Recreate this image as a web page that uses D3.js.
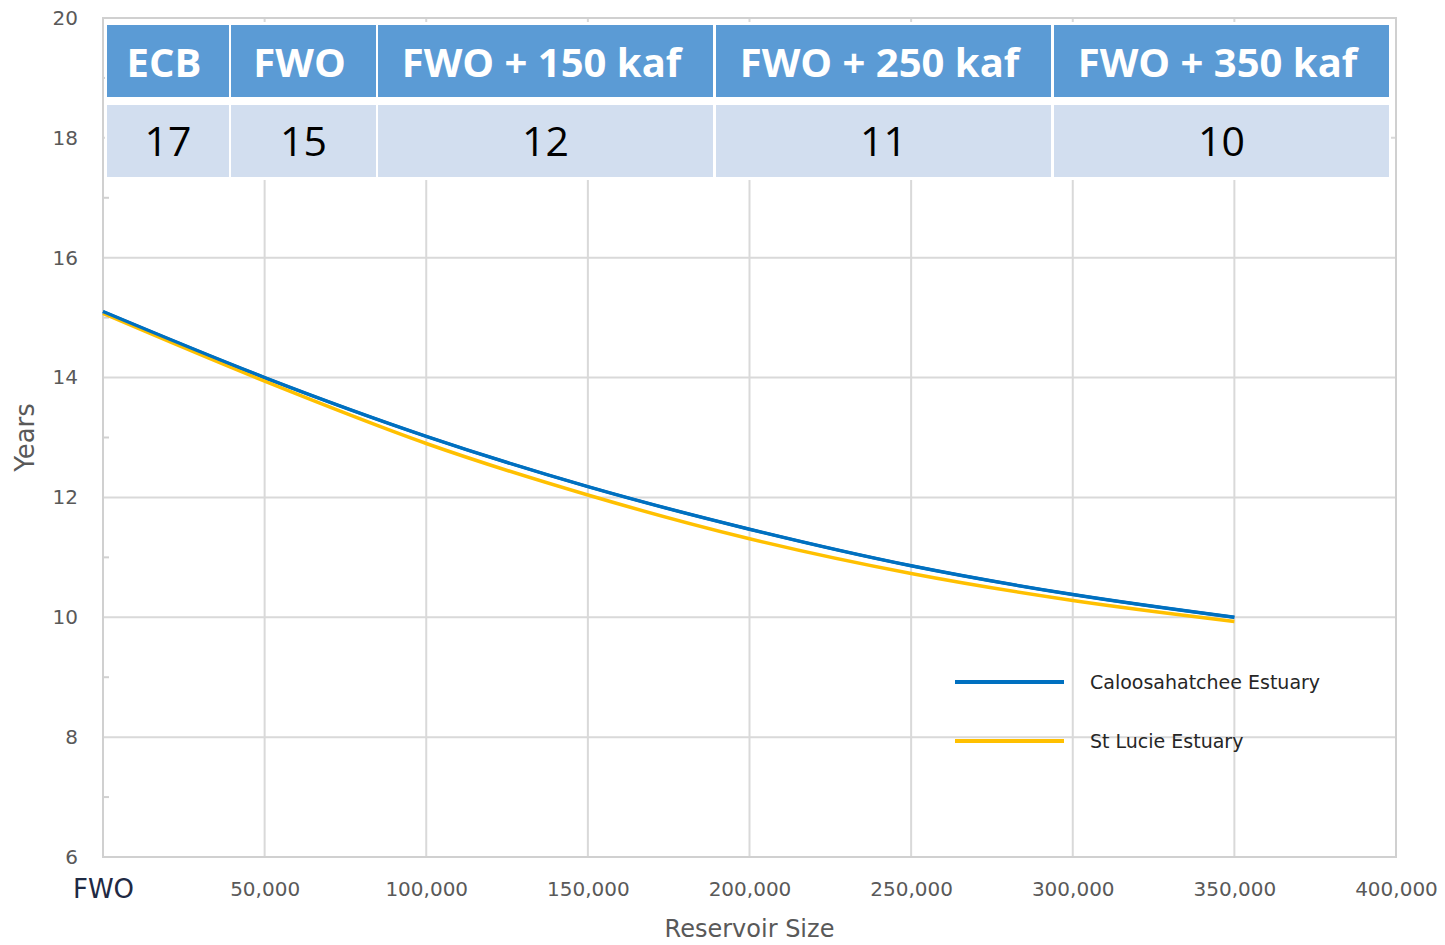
<!DOCTYPE html>
<html>
<head>
<meta charset="utf-8">
<script src="https://cdn.jsdelivr.net/npm/d3@7"></script>
<style>
  html, body { margin: 0; padding: 0; background: #fff; }
  svg { display: block; }
</style>
</head>
<body>
<svg id="chart" width="1445" height="945"></svg>
<script>
// ---- Data ----
const reservoirSizes = [0, 50000, 100000, 150000, 200000, 250000, 300000, 350000];
const caloosahatchee = [15.1, 14.0, 13.02, 12.18, 11.47, 10.86, 10.38, 10.0];
const stLucie        = [15.07, 13.94, 12.9, 12.04, 11.31, 10.73, 10.28, 9.93];
const seriesNames = ["Caloosahatchee Estuary", "St Lucie Estuary"];
const xTickValues = [0, 50000, 100000, 150000, 200000, 250000, 300000, 350000, 400000];
const xTickLabels = ["FWO", "50,000", "100,000", "150,000", "200,000", "250,000", "300,000", "350,000", "400,000"];
const yTickValues = [6, 8, 10, 12, 14, 16, 18, 20];
const tableHeaders = ["ECB", "FWO", "FWO + 150 kaf", "FWO + 250 kaf", "FWO + 350 kaf"];
const tableValues  = ["17", "15", "12", "11", "10"];

// ---- Layout ----
const plot = { left: 103, right: 1396, top: 18, bottom: 857 };
const colors = ["#0070C0", "#FFC000"];
const gridColor = "#d9d9d9";
const labelColor = "#595959";

const svg = d3.select("#chart");

const x = d3.scaleLinear().domain([0, 400000]).range([plot.left, plot.right]);
const y = d3.scaleLinear().domain([6, 20]).range([plot.bottom, plot.top]);

// gridlines
const g = svg.append("g");
g.selectAll("line.h").data(yTickValues).enter().append("line")
  .attr("x1", plot.left).attr("x2", plot.right)
  .attr("y1", d => y(d)).attr("y2", d => y(d))
  .attr("stroke", gridColor).attr("stroke-width", 2);
g.selectAll("line.v").data(xTickValues).enter().append("line")
  .attr("y1", plot.top).attr("y2", plot.bottom)
  .attr("x1", d => x(d)).attr("x2", d => x(d))
  .attr("stroke", gridColor).attr("stroke-width", 2);

// frame
svg.append("rect")
  .attr("x", plot.left).attr("y", plot.top)
  .attr("width", plot.right - plot.left).attr("height", plot.bottom - plot.top)
  .attr("fill", "none").attr("stroke", "#d0d0d0").attr("stroke-width", 2);

// minor ticks on left axis
const minor = d3.range(7, 20, 2);
svg.selectAll("line.minor").data(minor).enter().append("line")
  .attr("x1", plot.left).attr("x2", plot.left + 6)
  .attr("y1", d => y(d)).attr("y2", d => y(d))
  .attr("stroke", "#d0d0d0").attr("stroke-width", 2);

// y axis
const yAxis = d3.axisLeft(y).tickValues(yTickValues).tickSize(0).tickPadding(25);
const yg = svg.append("g").attr("transform", `translate(${plot.left},0)`).call(yAxis);
yg.select(".domain").remove();
yg.selectAll("text")
  .attr("font-family", "DejaVu Sans").attr("font-size", 20)
  .attr("fill", labelColor);

// x axis
const xAxis = d3.axisBottom(x).tickValues(xTickValues).tickSize(0).tickPadding(25)
  .tickFormat((d, i) => xTickLabels[i]);
const xg = svg.append("g").attr("transform", `translate(0,${plot.bottom})`).call(xAxis);
xg.select(".domain").remove();
xg.selectAll("text")
  .attr("font-family", "DejaVu Sans")
  .attr("font-size", (d, i) => i === 0 ? 26 : 20)
  .attr("dy", (d, i) => i === 0 ? "0.6em" : "0.71em")
  .attr("fill", (d, i) => i === 0 ? "#1f2a44" : labelColor);

// axis titles
svg.append("text")
  .attr("x", (plot.left + plot.right) / 2).attr("y", 937)
  .attr("text-anchor", "middle")
  .attr("font-family", "DejaVu Sans").attr("font-size", 24)
  .attr("fill", labelColor).text("Reservoir Size");
svg.append("text")
  .attr("transform", `translate(34,${(plot.top + plot.bottom) / 2}) rotate(-90)`)
  .attr("text-anchor", "middle")
  .attr("font-family", "DejaVu Sans").attr("font-size", 26)
  .attr("fill", labelColor).text("Years");

// lines
const line = d3.line()
  .x((d, i) => x(reservoirSizes[i]))
  .y(d => y(d))
  .curve(d3.curveMonotoneX);
[caloosahatchee, stLucie].forEach((s, k) => {
  svg.append("path").datum(s)
    .attr("d", line)
    .attr("fill", "none")
    .attr("stroke", colors[k])
    .attr("stroke-width", 3.5);
});
svg.append("path").datum(caloosahatchee)
  .attr("d", line).attr("fill", "none")
  .attr("stroke", colors[0]).attr("stroke-width", 3);

// legend
const legendY = [682, 741];
seriesNames.forEach((name, k) => {
  svg.append("line")
    .attr("x1", 955).attr("x2", 1064)
    .attr("y1", legendY[k]).attr("y2", legendY[k])
    .attr("stroke", colors[k]).attr("stroke-width", 4);
  svg.append("text")
    .attr("x", 1090).attr("y", legendY[k] + 7)
    .attr("font-family", "DejaVu Sans").attr("font-size", 19)
    .attr("fill", "#262626").text(name);
});

// table overlay
const cols = [[107, 229], [231, 376], [378, 713], [716, 1051], [1054, 1389]];
const tbl = svg.append("g");
tbl.append("rect").attr("x", 105).attr("y", 22).attr("width", 1286).attr("height", 158).attr("fill", "#fff");
tableHeaders.forEach((h, i) => {
  const [a, b] = cols[i];
  tbl.append("rect").attr("x", a).attr("y", 25).attr("width", b - a).attr("height", 72).attr("fill", "#5B9BD5");
  tbl.append("rect").attr("x", a).attr("y", 105).attr("width", b - a).attr("height", 72).attr("fill", "#D2DEEF");
  tbl.append("text").attr("x", (a + b) / 2 - 4).attr("y", 77)
    .attr("text-anchor", "middle")
    .attr("font-family", "Open Sans").attr("font-weight", "bold").attr("font-size", 40)
    .attr("fill", "#fff").text(h);
  tbl.append("text").attr("x", (a + b) / 2).attr("y", 156)
    .attr("text-anchor", "middle")
    .attr("font-family", "Open Sans").attr("font-size", 41)
    .attr("fill", "#000").text(tableValues[i]);
});
</script>
</body>
</html>
